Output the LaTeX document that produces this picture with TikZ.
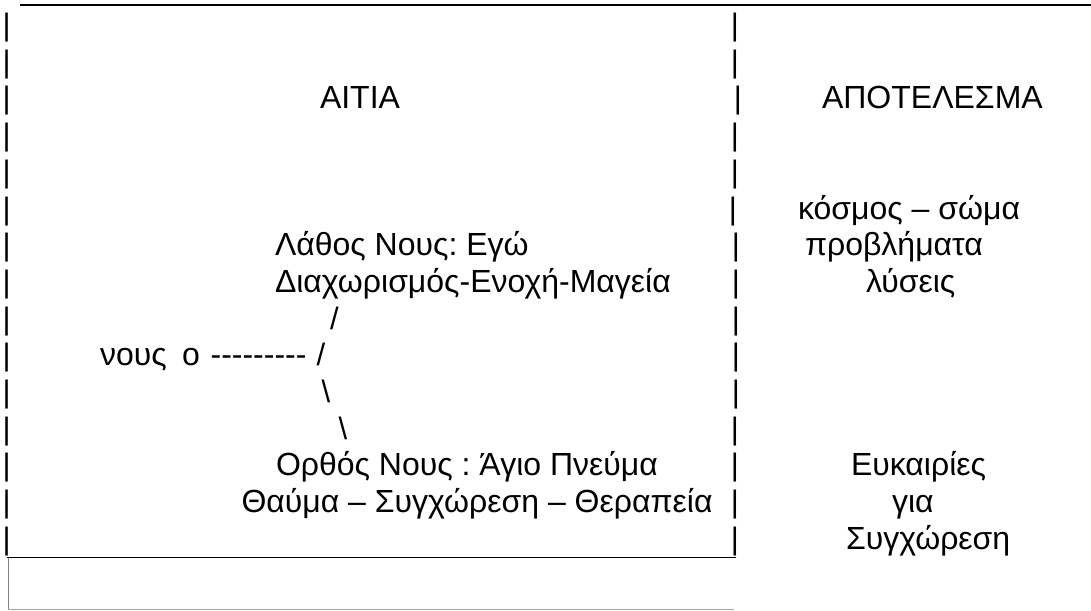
\documentclass[tikz,border=0pt]{standalone}
\usepackage{fontspec}
\setmainfont{Liberation Sans}
\frenchspacing
\newcommand\hyph{-\kern0pt\relax}
\tikzset{
  txt/.style={inner sep=0pt, outer sep=0pt, anchor=base west, font=\fontsize{32}{38}\selectfont},
  bar/.style={inner sep=0pt, outer sep=0pt, anchor=base, font=\fontsize{31}{36}\selectfont},
  rule/.style={line width=1.6pt, black},
  boxline/.style={line width=1pt, black},
  greyline/.style={line width=1pt, black!35}
}
\begin{document}
\begin{tikzpicture}[x=1pt,y=-1pt]
\useasboundingbox (0,0) rectangle (1091,610);
% top rule (a row of underscores)
\coordinate (topL) at (20,5);
\coordinate (topR) at (1091,5);
\draw[rule] (topL) -- (topR);
% pipes
\foreach \k in {0,...,14}{
  \node[bar] (pL\k) at (6.7,{35.5+36.7*\k}) {|};
}
\foreach \k/\xx in {0/735,1/735,2/738,3/735,4/735,5/733,6/736,7/736,8/736,9/736,10/736,11/735,12/735,13/735,14/735}{
  \node[bar] (pM\k) at (\xx,{35.5+36.7*\k}) {|};
}
% headings
\node[txt] (aitia) at (320,{35.5+36.7*2}) {ΑΙΤΙΑ};
\node[txt] (apot) at (822,{35.5+36.7*2}) {ΑΠΟΤΕΛΕΣΜΑ};
% right column
\node[txt] (kosmos) at (798,{35.5+36.7*5}) {κόσμος – σώμα};
\node[txt] (provl) at (805,{35.5+36.7*6}) {προβλήματα};
\node[txt] (lyseis) at (866,{35.5+36.7*7}) {λύσεις};
\node[txt] (efk) at (851,{35.5+36.7*12}) {Ευκαιρίες};
\node[txt] (gia) at (892,{35.5+36.7*13}) {για};
\node[txt] (sygx) at (846,{35.5+36.7*14}) {Συγχώρεση};
% left column
\node[txt] (lathos) at (275,{35.5+36.7*6}) {Λάθος Νους: Εγώ};
\node[txt] (diax) at (275,{35.5+36.7*7}) {Διαχωρισμός-Ενοχή-Μαγεία};
\node[bar] (sl1) at (334.5,{35.5+36.7*8}) {/};
\node[txt] (nous) at (100,{35.5+36.7*9}) {νους};
\node[txt] (omi) at (182,{35.5+36.7*9}) {ο};
\node[txt] (dashes) at (210.6,{35.5+36.7*9}) {\hyph\hyph\hyph\hyph\hyph\hyph\hyph\hyph\hyph};
\node[bar] (sl2) at (321,{35.5+36.7*9}) {/};
\node[bar] (bs1) at (326,{35.5+36.7*10}) {\textbackslash};
\node[bar] (bs2) at (343,{35.5+36.7*11}) {\textbackslash};
\node[txt] (orthos) at (276,{35.5+36.7*12}) {Ορθός Νους : Άγιο Πνεύμα};
\node[txt] (thavma) at (241.5,{35.5+36.7*13}) {Θαύμα – Συγχώρεση – Θεραπεία};
% box bottom
\coordinate (bl) at (7,557.5);
\coordinate (br) at (735.5,557.5);
\draw[boxline] (bl) -- (br);
\coordinate (gtop) at (8,558);
\coordinate (gbot) at (8,609);
\coordinate (gend) at (734,609);
\draw[greyline, black!50] (gtop) -- (gbot);
\draw[greyline] (gbot) -- (gend);
\end{tikzpicture}
\end{document}
